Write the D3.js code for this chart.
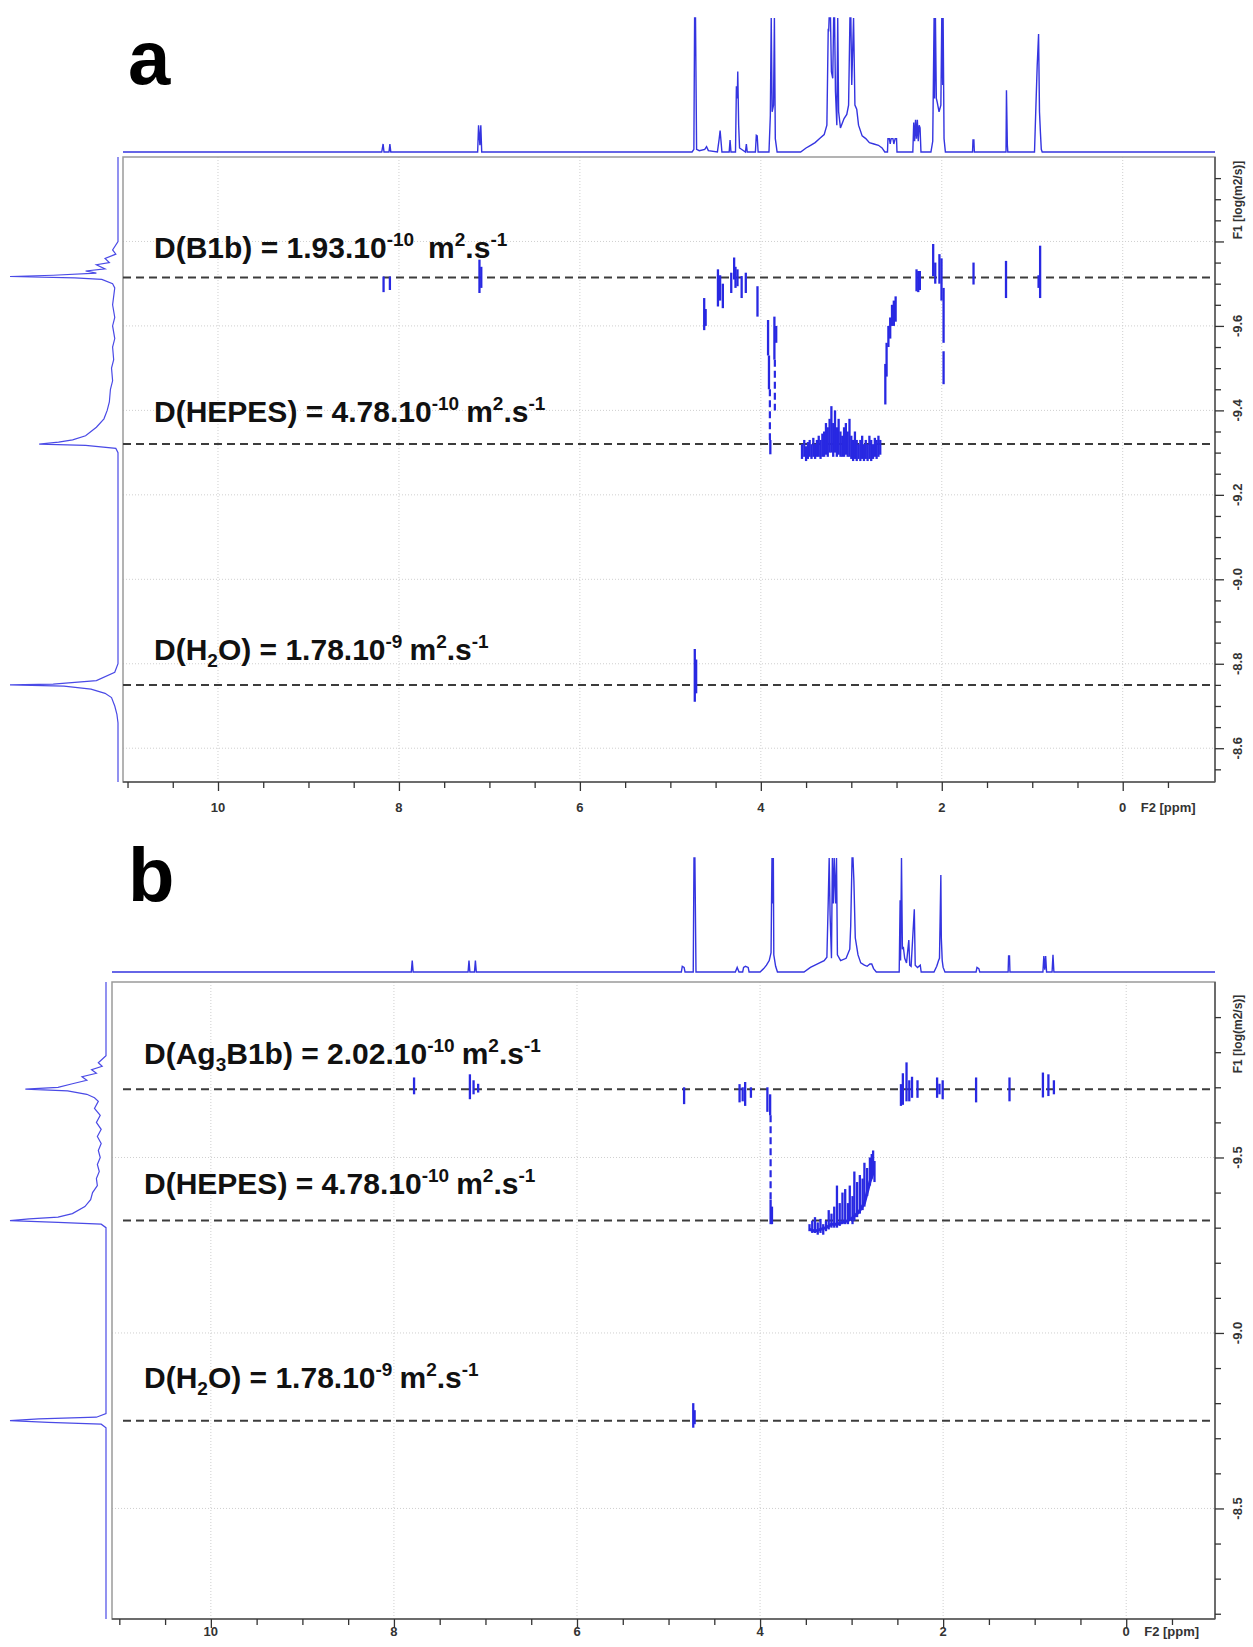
<!DOCTYPE html>
<html><head><meta charset="utf-8">
<script src="https://cdn.jsdelivr.net/npm/d3@7"></script>
<style>
body{margin:0;background:#fff;}
svg{display:block;}
</style></head><body>
<svg id="chart" width="1253" height="1647"></svg>
<script>
// ================= DATA =================
const ppmMajor = [10, 8, 6, 4, 2, 0];
const speciesA = ['B1b', 'HEPES', 'H_2O'];
const diffA = [1.93e-10, 4.78e-10, 1.78e-9];
const speciesB = ['Ag_3B1b', 'HEPES', 'H_2O'];
const diffB = [2.02e-10, 4.78e-10, 1.78e-9];
const logDTicksA = [-9.8, -9.6, -9.4, -9.2, -9.0, -8.8, -8.6];
const logDLabelsA = ['-9.6', '-9.4', '-9.2', '-9.0', '-8.8', '-8.6'];
const logDTicksB = [-9.5, -9.0, -8.5];
const logDLabelsB = ['-9.5', '-9.0', '-8.5'];

// 1D 1H spectrum on top (ppm, relative intensity; 1 = clipped)
const specA = [[11.05,0],[8.19,0],[8.175,0.06],[8.165,0],[8.11,0],[8.10,0.06],[8.09,0],[7.13,0],[7.12,0.2],[7.105,0.05],[7.095,0.2],[7.085,0],
[4.76,0],[4.74,0.02],[4.732,1],[4.722,1],[4.71,0.02],[4.68,0.01],[4.62,0.02],[4.60,0.04],[4.58,0.01],[4.48,0],[4.46,0.1],[4.45,0.16],[4.44,0.08],[4.43,0],[4.35,0],[4.34,0.09],[4.33,0],[4.28,0],[4.27,0.49],[4.26,0.4],[4.255,0.6],[4.245,0.2],[4.235,0.03],[4.17,0],[4.16,0.06],[4.15,0],[4.06,0],[4.05,0.125],[4.04,0.12],[4.03,0],
[3.91,0],[3.895,0.27],[3.885,1],[3.875,0.3],[3.86,0.35],[3.85,1],[3.84,0.1],[3.83,0.05],[3.82,0],
[3.56,0],[3.5,0.03],[3.45,0.05],[3.4,0.07],[3.35,0.1],[3.3,0.13],[3.27,0.2],[3.255,0.92],[3.25,0.9],[3.245,1],[3.23,1],[3.22,0.6],[3.205,0.55],[3.195,1],[3.185,1],[3.175,0.45],[3.16,0.2],[3.15,1],[3.14,0.3],[3.12,0.18],[3.08,0.25],[3.05,0.28],[3.03,0.35],[3.015,1],[3.005,1],[2.995,0.5],[2.985,0.76],[2.975,1],[2.96,0.35],[2.94,0.32],[2.92,0.2],[2.88,0.12],[2.84,0.1],[2.80,0.07],[2.75,0.06],[2.70,0.05],[2.66,0.03],[2.63,0],
[2.60,0],[2.595,0.1],[2.58,0.1],[2.57,0.06],[2.56,0.1],[2.54,0.1],[2.53,0.06],[2.515,0.1],[2.50,0.1],[2.495,0],
[2.32,0],[2.31,0.22],[2.30,0.08],[2.29,0.24],[2.28,0.1],[2.27,0.24],[2.26,0.08],[2.25,0.2],[2.24,0.18],[2.23,0],
[2.12,0],[2.10,0.08],[2.085,1],[2.08,0.4],[2.07,1],[2.06,0.4],[2.05,0.37],[2.03,0.3],[2.01,0.35],[2.00,1],[1.99,0.5],[1.985,1],[1.975,0.1],[1.96,0],
[1.66,0],[1.655,0.09],[1.645,0.09],[1.64,0],
[1.29,0],[1.285,0.46],[1.275,0.05],[1.27,0],
[0.975,0],[0.96,0.33],[0.945,0.65],[0.93,0.88],[0.92,0.3],[0.91,0.15],[0.90,0.02],[0.89,0],
[-1.02,0]];

const specB = [[11.08,0],[7.81,0],[7.80,0.1],[7.79,0],[7.19,0],[7.18,0.1],[7.17,0],[7.12,0],[7.11,0.1],[7.10,0],
[4.86,0],[4.85,0.05],[4.83,0.04],[4.82,0],[4.73,0],[4.722,1],[4.712,1],[4.70,0],
[4.27,0],[4.25,0.04],[4.23,0],[4.19,0],[4.18,0.04],[4.16,0.05],[4.13,0.04],[4.12,0],
[4.0,0],[3.96,0.03],[3.93,0.06],[3.90,0.1],[3.88,0.17],[3.87,1],[3.86,0.6],[3.855,1],[3.85,0.15],[3.83,0.05],[3.81,0],
[3.52,0],[3.45,0.04],[3.40,0.06],[3.35,0.08],[3.30,0.1],[3.27,0.13],[3.255,0.63],[3.245,1],[3.235,0.5],[3.22,0.12],[3.21,1],[3.20,0.6],[3.19,1],[3.175,0.6],[3.165,1],[3.155,0.15],[3.12,0.1],[3.06,0.12],[3.02,0.2],[3.01,0.4],[2.995,1],[2.985,1],[2.975,0.8],[2.96,0.3],[2.93,0.15],[2.90,0.08],[2.86,0.06],[2.83,0.05],[2.80,0.07],[2.78,0.07],[2.76,0.03],[2.73,0],
[2.48,0],[2.47,0.63],[2.465,0.1],[2.455,1],[2.445,0.2],[2.435,0.22],[2.42,0.12],[2.40,0.08],[2.375,0.28],[2.365,0.06],[2.35,0.05],[2.315,0.55],[2.305,0.06],[2.28,0.04],[2.25,0.06],[2.24,0],
[2.10,0],[2.07,0.05],[2.05,0.1],[2.04,0.12],[2.025,0.85],[2.02,0.3],[2.01,0.1],[2.00,0.04],[1.98,0],
[1.64,0],[1.63,0.04],[1.61,0.03],[1.60,0],
[1.29,0],[1.285,0.14],[1.275,0.14],[1.27,0],
[0.91,0],[0.90,0.14],[0.89,0.02],[0.88,0.14],[0.87,0],[0.81,0],[0.80,0.15],[0.79,0],
[-0.97,0]];

// F1 projection (log D, relative intensity)
const projA = [[-10.0,0],[-9.80,0],[-9.78,0.05],[-9.77,0.02],[-9.76,0.12],[-9.75,0.08],[-9.745,0.2],[-9.735,0.12],[-9.73,0.3],[-9.725,0.2],[-9.72,0.6],[-9.717,1.0],[-9.714,0.4],[-9.71,0.15],[-9.70,0.05],[-9.69,0.03],[-9.65,0.05],[-9.62,0.03],[-9.60,0.05],[-9.57,0.03],[-9.55,0.05],[-9.52,0.04],[-9.50,0.06],[-9.47,0.05],[-9.45,0.07],[-9.42,0.08],[-9.40,0.1],[-9.38,0.13],[-9.36,0.2],[-9.34,0.3],[-9.33,0.42],[-9.325,0.55],[-9.32,0.73],[-9.317,0.3],[-9.31,0.02],[-9.30,0],[-8.80,0],[-8.78,0.03],[-8.76,0.2],[-8.752,0.6],[-8.75,1.0],[-8.747,0.5],[-8.74,0.25],[-8.73,0.12],[-8.72,0.06],[-8.70,0.03],[-8.68,0.01],[-8.66,0],[-8.52,0]];
const projB = [[-10.0,0],[-9.79,0],[-9.77,0.08],[-9.76,0.04],[-9.75,0.15],[-9.74,0.1],[-9.73,0.25],[-9.72,0.2],[-9.71,0.35],[-9.70,0.5],[-9.695,0.84],[-9.69,0.4],[-9.68,0.2],[-9.67,0.12],[-9.66,0.08],[-9.64,0.12],[-9.62,0.06],[-9.60,0.1],[-9.58,0.05],[-9.56,0.09],[-9.54,0.05],[-9.52,0.08],[-9.50,0.06],[-9.48,0.09],[-9.46,0.07],[-9.44,0.1],[-9.42,0.09],[-9.40,0.14],[-9.38,0.16],[-9.36,0.22],[-9.34,0.35],[-9.33,0.5],[-9.325,0.8],[-9.32,1.0],[-9.315,0.5],[-9.31,0.05],[-9.30,0],[-8.77,0],[-8.76,0.1],[-8.755,0.7],[-8.75,1.0],[-8.745,0.6],[-8.74,0.05],[-8.73,0],[-8.185,0]];

// DOSY cross peaks: [ppm, logD top, logD bottom]
const peaksA = [[8.17,-9.717,-9.68],[8.10,-9.717,-9.685],[7.11,-9.757,-9.678],[7.09,-9.74,-9.69],
[4.626,-9.666,-9.59],[4.61,-9.64,-9.60],[4.474,-9.734,-9.646],[4.45,-9.72,-9.66],[4.42,-9.70,-9.642],
[4.327,-9.726,-9.678],[4.295,-9.762,-9.71],[4.28,-9.74,-9.69],[4.258,-9.734,-9.694],[4.212,-9.718,-9.666],[4.166,-9.726,-9.678],[4.037,-9.694,-9.622],
[3.92,-9.614,-9.53],[3.91,-9.53,-9.45],[3.895,-9.33,-9.296],[3.85,-9.622,-9.52],[3.83,-9.60,-9.56],
[3.545,-9.32,-9.285],[3.52,-9.33,-9.29],[3.50,-9.315,-9.28],[3.48,-9.325,-9.285],[3.46,-9.33,-9.29],[3.44,-9.32,-9.285],[3.42,-9.335,-9.29],[3.40,-9.32,-9.285],[3.38,-9.33,-9.29],[3.36,-9.34,-9.29],[3.34,-9.33,-9.285],[3.32,-9.345,-9.29],[3.30,-9.35,-9.29],[3.28,-9.37,-9.295],[3.26,-9.36,-9.29],[3.24,-9.38,-9.30],[3.22,-9.41,-9.30],[3.20,-9.37,-9.29],[3.18,-9.40,-9.30],[3.16,-9.36,-9.29],[3.14,-9.38,-9.295],[3.12,-9.35,-9.29],[3.10,-9.34,-9.29],[3.08,-9.36,-9.29],[3.06,-9.37,-9.295],[3.04,-9.35,-9.29],[3.02,-9.38,-9.29],[3.00,-9.34,-9.285],[2.98,-9.33,-9.28],[2.96,-9.35,-9.285],[2.94,-9.33,-9.28],[2.92,-9.32,-9.285],[2.90,-9.33,-9.28],[2.88,-9.34,-9.285],[2.86,-9.32,-9.28],[2.84,-9.33,-9.285],[2.82,-9.32,-9.28],[2.80,-9.34,-9.285],[2.78,-9.33,-9.28],[2.76,-9.32,-9.285],[2.74,-9.335,-9.29],[2.72,-9.33,-9.285],[2.70,-9.34,-9.29],[2.68,-9.33,-9.295],
[2.624,-9.51,-9.414],[2.61,-9.56,-9.48],[2.59,-9.60,-9.55],[2.57,-9.62,-9.57],[2.55,-9.65,-9.60],[2.53,-9.66,-9.60],[2.51,-9.67,-9.61],
[2.279,-9.734,-9.682],[2.26,-9.73,-9.68],[2.242,-9.73,-9.685],
[2.095,-9.794,-9.718],[2.072,-9.75,-9.70],[2.026,-9.77,-9.70],[2.003,-9.76,-9.66],[1.98,-9.69,-9.56],[1.98,-9.54,-9.462],
[1.649,-9.75,-9.698],[1.29,-9.754,-9.666],[0.913,-9.79,-9.666],[0.93,-9.72,-9.69],
[4.73,-8.835,-8.71],[4.715,-8.81,-8.73]];
const dashPeaksA = [[3.90,-9.45,-9.33],[3.845,-9.52,-9.40]];

const peaksB = [[7.78,-9.728,-9.68],[7.17,-9.737,-9.666],[7.13,-9.72,-9.68],[7.08,-9.71,-9.685],
[4.83,-9.70,-9.652],[4.224,-9.709,-9.657],[4.19,-9.70,-9.66],[4.163,-9.715,-9.647],[4.10,-9.70,-9.67],
[3.92,-9.70,-9.63],[3.89,-9.68,-9.62],[3.885,-9.38,-9.31],[3.87,-9.36,-9.31],
[3.46,-9.31,-9.29],[3.43,-9.32,-9.285],[3.40,-9.33,-9.285],[3.37,-9.315,-9.28],[3.34,-9.325,-9.285],[3.31,-9.31,-9.28],[3.28,-9.32,-9.29],[3.25,-9.35,-9.295],[3.22,-9.34,-9.30],[3.19,-9.36,-9.30],[3.16,-9.42,-9.30],[3.13,-9.37,-9.305],[3.10,-9.40,-9.31],[3.07,-9.41,-9.31],[3.04,-9.37,-9.31],[3.02,-9.42,-9.32],[2.99,-9.39,-9.31],[2.97,-9.46,-9.32],[2.94,-9.43,-9.33],[2.91,-9.45,-9.34],[2.88,-9.44,-9.35],[2.86,-9.485,-9.36],[2.83,-9.47,-9.39],[2.80,-9.50,-9.42],[2.78,-9.51,-9.44],[2.765,-9.52,-9.45],[2.75,-9.49,-9.43],
[2.461,-9.709,-9.647],[2.44,-9.74,-9.65],[2.40,-9.771,-9.66],[2.37,-9.72,-9.66],[2.34,-9.73,-9.67],[2.28,-9.72,-9.67],
[2.066,-9.728,-9.67],[2.04,-9.71,-9.68],[2.005,-9.72,-9.666],
[1.64,-9.728,-9.657],[1.275,-9.728,-9.66],[0.91,-9.742,-9.671],[0.85,-9.737,-9.675],[0.79,-9.72,-9.68],
[4.73,-8.80,-8.73],[4.715,-8.78,-8.74]];
const dashPeaksB = [[3.885,-9.62,-9.38]];
// HEPES band baseline trace in panel b: [ppm, logD]
const bandB = [[3.46,-9.295],[3.40,-9.29],[3.34,-9.295],[3.28,-9.30],[3.22,-9.31],[3.16,-9.31],[3.10,-9.315],[3.04,-9.32],[2.98,-9.33],[2.92,-9.345],[2.86,-9.37],[2.80,-9.43],[2.76,-9.46]];

// ================= DRAWING =================
const svg = d3.select('#chart');
const blue = '#2828e2';
const specBlue = '#3434e0';
const FONT = "'Liberation Sans', Arial, Helvetica, sans-serif";
const AXFONT = "'Liberation Sans Narrow', 'Arial Narrow', 'Liberation Sans', Arial, sans-serif";

const panels = [
  {letter:'a', letterY:84, fx0:123, fx1:1215, fy0:157, fy1:782, ppmDom:[11.05,-1.02], logDom:[-10.0,-8.52],
   specBase:152, specTop:18, projBase:118, projTip:10, spec:specA, proj:projA, peaks:peaksA, dash:dashPeaksA, band:[],
   species:speciesA, diff:diffA, labelX:154, labelY:[258,422,660], gapFirst:true, dashStart:0,
   yTicks:logDTicksA, yLabels:logDLabelsA, yMinorStep:0.05, titleY:200, tickLabY:812},
  {letter:'b', letterY:901, fx0:112, fx1:1215, fy0:982, fy1:1619, ppmDom:[11.08,-0.97], logDom:[-10.0,-8.185],
   specBase:972, specTop:858, projBase:106, projTip:10, spec:specB, proj:projB, peaks:peaksB, dash:dashPeaksB, band:bandB,
   species:speciesB, diff:diffB, labelX:144, labelY:[1064,1194,1388], gapFirst:false, dashStart:11,
   yTicks:logDTicksB, yLabels:logDLabelsB, yMinorStep:0.1, titleY:1034, tickLabY:1636}
];

function richLabel(g, x, y, name, D, wide) {
  const exp = Math.floor(Math.log10(D));
  const mant = (D / Math.pow(10, exp)).toFixed(2);
  const t = g.append('text').attr('x', x).attr('y', y)
    .attr('font-family', FONT).attr('font-weight', 'bold').attr('font-size', 30).attr('fill', '#111');
  let pending = 0;
  const add = (txt, size, shift) => {
    const s = t.append('tspan').text(txt);
    if (size) s.attr('font-size', size);
    const dy = pending + (shift || 0);
    if (dy) s.attr('dy', dy);
    pending = -(shift || 0);
    return s;
  };
  add('D(');
  name.split(/_(\d)/).forEach((p, i) => {
    if (!p) return;
    if (i % 2 === 1) add(p, 19, 7); else add(p);
  });
  add(') = ' + mant + '.10');
  add(String(exp), 19, -12);
  add('m', null, 0).attr('dx', wide ? 14 : 7);
  add('2', 19, -12);
  add('.s');
  add('-1', 19, -12);
}

panels.forEach(P => {
  const g = svg.append('g');
  const x = d3.scaleLinear().domain(P.ppmDom).range([P.fx0, P.fx1]);
  const y = d3.scaleLinear().domain(P.logDom).range([P.fy0, P.fy1]);
  const ySpec = d3.scaleLinear().domain([0, 1]).range([P.specBase, P.specTop]).clamp(true);
  const xProj = d3.scaleLinear().domain([0, 1]).range([P.projBase, P.projTip]);

  // panel letter
  g.append('text').attr('x', 128).attr('y', P.letterY).attr('font-family', FONT)
    .attr('font-weight', 'bold').attr('font-size', 76).attr('fill', '#000').text(P.letter);

  // grid
  g.append('g').selectAll('line').data(ppmMajor).join('line')
    .attr('x1', d => x(d)).attr('x2', d => x(d)).attr('y1', P.fy0).attr('y2', P.fy1)
    .attr('stroke', '#cfcfcf').attr('stroke-width', 1).attr('stroke-dasharray', '1,2');
  g.append('g').selectAll('line').data(P.yTicks).join('line')
    .attr('x1', P.fx0).attr('x2', P.fx1).attr('y1', d => y(d)).attr('y2', d => y(d))
    .attr('stroke', '#cfcfcf').attr('stroke-width', 1).attr('stroke-dasharray', '1,2');

  // frame
  g.append('rect').attr('x', P.fx0).attr('y', P.fy0).attr('width', P.fx1 - P.fx0).attr('height', P.fy1 - P.fy0)
    .attr('fill', 'none').attr('stroke', '#9a9a9a').attr('stroke-width', 1.5);
  g.append('line').attr('x1', P.fx0).attr('x2', P.fx1).attr('y1', P.fy1).attr('y2', P.fy1).attr('stroke', '#555').attr('stroke-width', 1.5);
  g.append('line').attr('x1', P.fx1).attr('x2', P.fx1).attr('y1', P.fy0).attr('y2', P.fy1).attr('stroke', '#555').attr('stroke-width', 1.5);

  // bottom axis
  const minorX = d3.range(-0.5, 11.01, 0.5).filter(v => ppmMajor.indexOf(v) < 0);
  const axM = g.append('g').attr('transform', `translate(0,${P.fy1})`)
    .call(d3.axisBottom(x).tickValues(ppmMajor).tickSize(9).tickFormat(''));
  const axm = g.append('g').attr('transform', `translate(0,${P.fy1})`)
    .call(d3.axisBottom(x).tickValues(minorX).tickSize(6).tickFormat(''));
  [axM, axm].forEach(a => { a.select('.domain').remove(); a.selectAll('line').attr('stroke', '#333').attr('stroke-width', 1.3); });
  g.append('g').selectAll('text').data(ppmMajor).join('text')
    .attr('x', d => x(d)).attr('y', P.tickLabY).attr('text-anchor', 'middle')
    .attr('font-family', AXFONT).attr('font-weight', 'bold').attr('font-size', 13).attr('fill', '#333')
    .text(d => d3.format('d')(d));
  g.append('text').attr('x', x(0) + 18).attr('y', P.tickLabY).attr('font-family', AXFONT)
    .attr('font-weight', 'bold').attr('font-size', 13).attr('fill', '#333').text('F2 [ppm]');

  // right axis
  const minorY = d3.range(P.logDom[0] + P.yMinorStep, P.logDom[1], P.yMinorStep)
    .filter(v => !P.yTicks.some(t => Math.abs(t - v) < 1e-6));
  const ayM = g.append('g').attr('transform', `translate(${P.fx1},0)`)
    .call(d3.axisRight(y).tickValues(P.yTicks).tickSize(9).tickFormat(''));
  const aym = g.append('g').attr('transform', `translate(${P.fx1},0)`)
    .call(d3.axisRight(y).tickValues(minorY).tickSize(6).tickFormat(''));
  [ayM, aym].forEach(a => { a.select('.domain').remove(); a.selectAll('line').attr('stroke', '#333').attr('stroke-width', 1.3); });
  const labVals = P.yTicks.slice(P.yTicks.length - P.yLabels.length);
  g.append('g').selectAll('text').data(labVals).join('text')
    .attr('transform', (d) => `translate(${P.fx1 + 27},${y(d)}) rotate(-90)`)
    .attr('text-anchor', 'middle').attr('font-family', AXFONT).attr('font-weight', 'bold')
    .attr('font-size', 13).attr('fill', '#333').text((d, i) => P.yLabels[i]);
  g.append('text').attr('transform', `translate(${P.fx1 + 27},${P.titleY}) rotate(-90)`)
    .attr('text-anchor', 'middle').attr('font-family', AXFONT).attr('font-weight', 'bold')
    .attr('font-size', 12).attr('fill', '#333').text('F1 [log(m2/s)]');

  // top 1D spectrum
  g.append('path').datum(P.spec)
    .attr('d', d3.line().x(d => x(d[0])).y(d => ySpec(d[1])))
    .attr('fill', 'none').attr('stroke', specBlue).attr('stroke-width', 1.4).attr('stroke-linejoin', 'miter');

  // left projection
  g.append('path').datum(P.proj)
    .attr('d', d3.line().x(d => xProj(d[1])).y(d => y(d[0])))
    .attr('fill', 'none').attr('stroke', '#4a4ae6').attr('stroke-width', 1.2);

  // dashed lines at log D
  g.append('g').selectAll('line').data(P.diff).join('line')
    .attr('x1', P.fx0 + P.dashStart).attr('x2', P.fx1 - 2)
    .attr('y1', d => y(Math.log10(d))).attr('y2', d => y(Math.log10(d)))
    .attr('stroke', '#3c3c3c').attr('stroke-width', 2).attr('stroke-dasharray', '8,5');

  // cross peaks
  g.append('g').selectAll('line').data(P.peaks).join('line')
    .attr('x1', d => x(d[0])).attr('x2', d => x(d[0])).attr('y1', d => y(d[1])).attr('y2', d => y(d[2]))
    .attr('stroke', blue).attr('stroke-width', 2.3);
  g.append('g').selectAll('line').data(P.dash).join('line')
    .attr('x1', d => x(d[0])).attr('x2', d => x(d[0])).attr('y1', d => y(d[1])).attr('y2', d => y(d[2]))
    .attr('stroke', blue).attr('stroke-width', 2.2).attr('stroke-dasharray', '7,4');
  if (P.band.length) {
    g.append('path').datum(P.band)
      .attr('d', d3.line().x(d => x(d[0])).y(d => y(d[1])))
      .attr('fill', 'none').attr('stroke', blue).attr('stroke-width', 3);
  }

  // labels
  P.species.forEach((s, i) => richLabel(g, P.labelX, P.labelY[i], s, P.diff[i], P.gapFirst && i === 0));
});
</script>
</body></html>
